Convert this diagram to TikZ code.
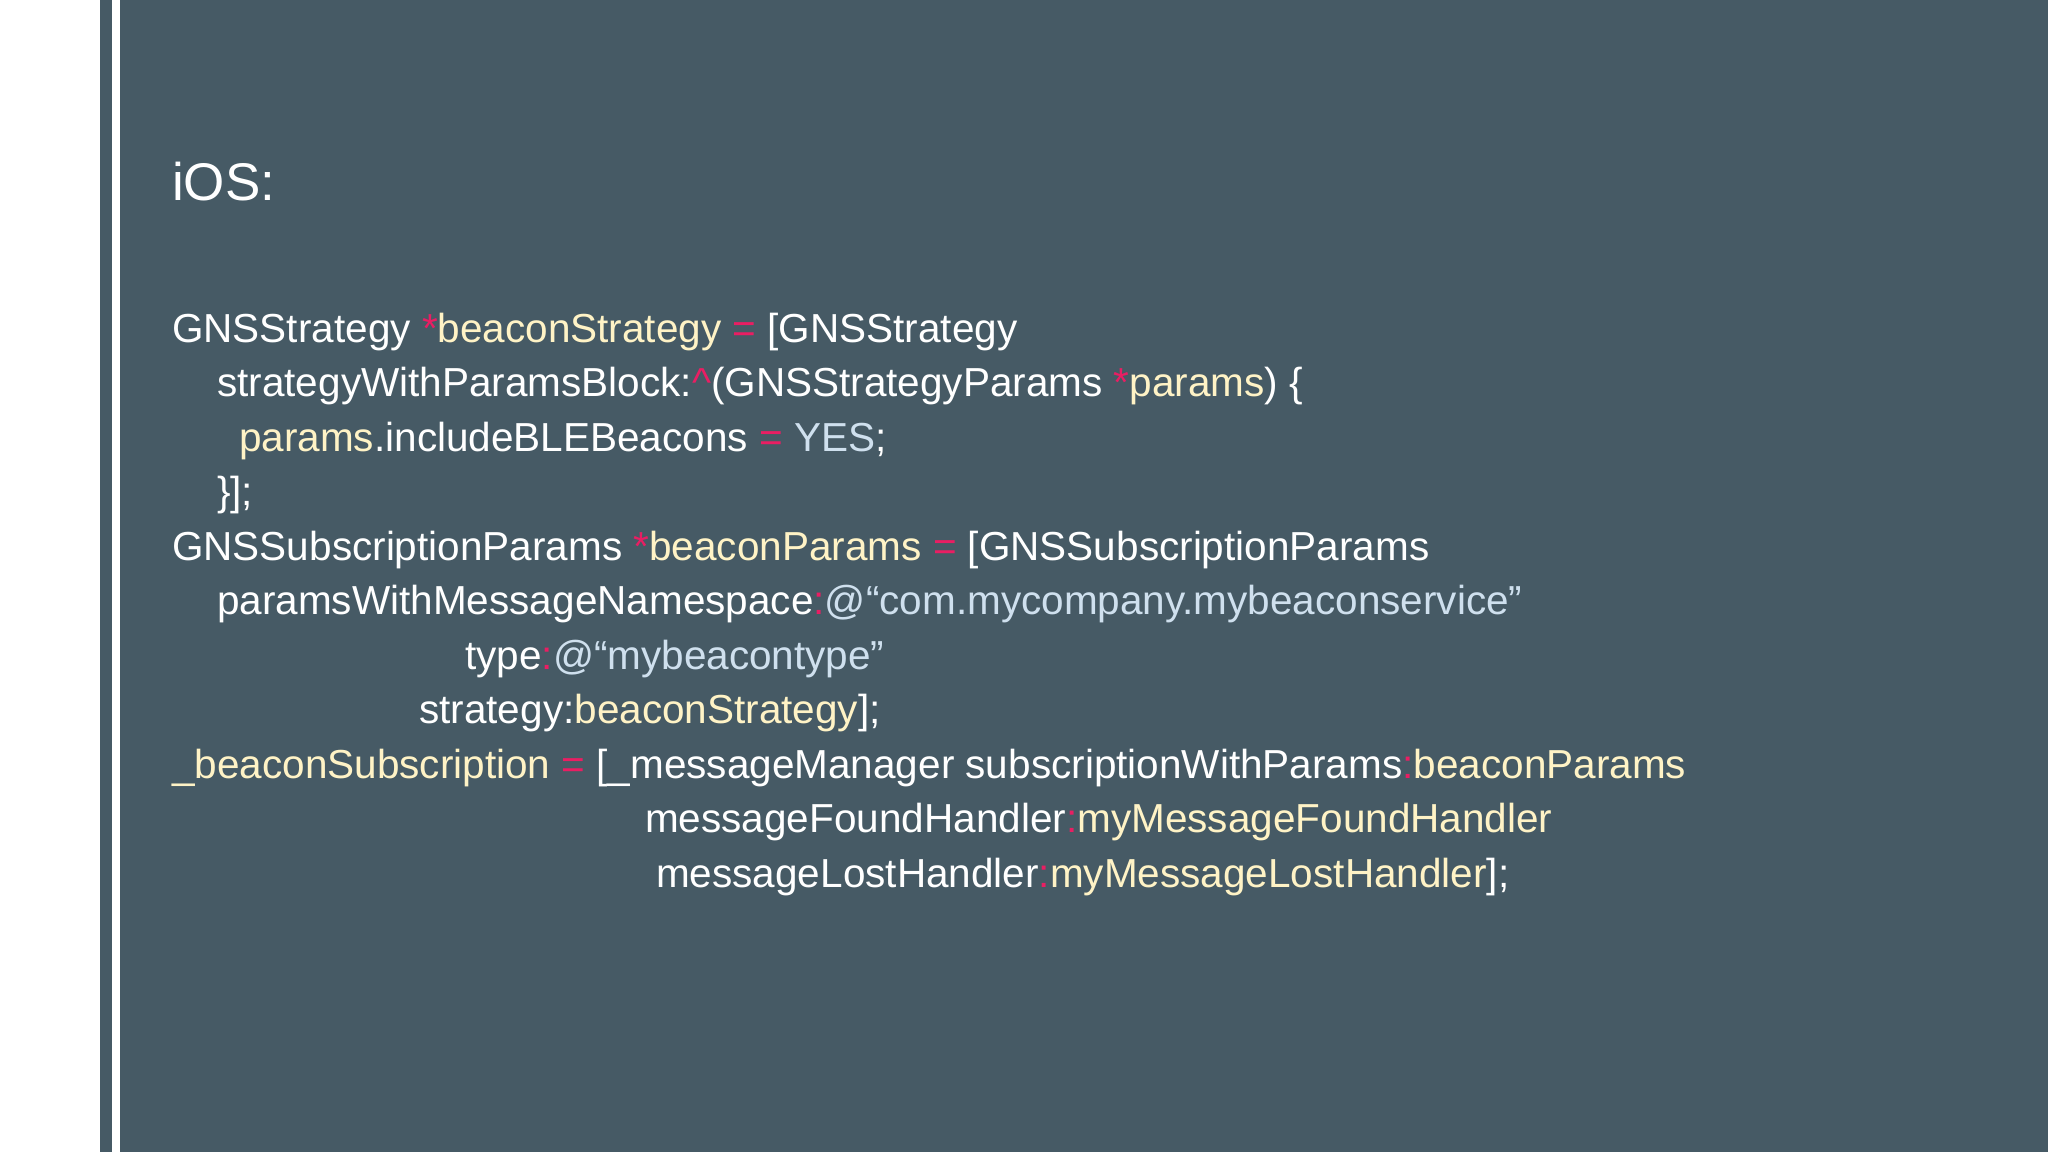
\documentclass[tikz,border=0pt]{standalone}
\usepackage{fontspec}
\setmainfont{Liberation Sans}
\definecolor{bg}{HTML}{465A65}
\definecolor{yl}{HTML}{FFF3C6}
\definecolor{pk}{HTML}{E91E63}
\definecolor{lb}{HTML}{CFE0EE}
\newcommand{\cY}[1]{\textcolor{yl}{#1}}
\newcommand{\cP}[1]{\textcolor{pk}{#1}}
\newcommand{\cB}[1]{\textcolor{lb}{#1}}
\begin{document}
\begin{tikzpicture}[x=1pt,y=-1pt,
  code/.style={anchor=base west,inner sep=0pt,text=white,font=\fontsize{40.5}{40.5}\selectfont}]
\useasboundingbox (0,0) rectangle (2048,1152);
\fill[white] (0,0) rectangle (2048,1152);
\fill[bg] (100,0) rectangle (112,1152);
\fill[bg] (120,0) rectangle (2048,1152);
\node[code,font=\fontsize{53}{53}\selectfont] (ios) at (172,200) {iOS:};
\node[code] (l1) at (172,342) {GNSStrategy \cP{*}\cY{beaconStrategy} \cP{=} [GNSStrategy};
\node[code] (l2) at (217,396.5) {strategyWithParamsBlock:\cP{\^{}}(GNSStrategyParams \cP{*}\cY{params}) \{};
\node[code] (l3) at (239,451) {\cY{params}.includeBLEBeacons \cP{=} \cB{YES};};
\node[code] (l4) at (217,505.5) {\}];};
\node[code] (l5) at (172,560) {GNSSubscriptionParams \cP{*}\cY{beaconParams} \cP{=} [GNSSubscriptionParams};
\node[code] (l6) at (217,614.5) {paramsWithMessageNamespace\cP{:}\cB{@“com.mycompany.mybeaconservice”}};
\node[code] (l7) at (465,669) {type\cP{:}\cB{@“mybeacontype”}};
\node[code] (l8) at (419,723.5) {strategy:\cY{beaconStrategy}];};
\node[code] (l9) at (172,778) {\cY{\_beaconSubscription} \cP{=} [\_messageManager subscriptionWithParams\cP{:}\cY{beaconParams}};
\node[code] (l10) at (645,832.5) {messageFoundHandler\cP{:}\cY{myMessageFoundHandler}};
\node[code] (l11) at (656,887) {messageLostHandler\cP{:}\cY{myMessageLostHandler}];};
\end{tikzpicture}
\end{document}
